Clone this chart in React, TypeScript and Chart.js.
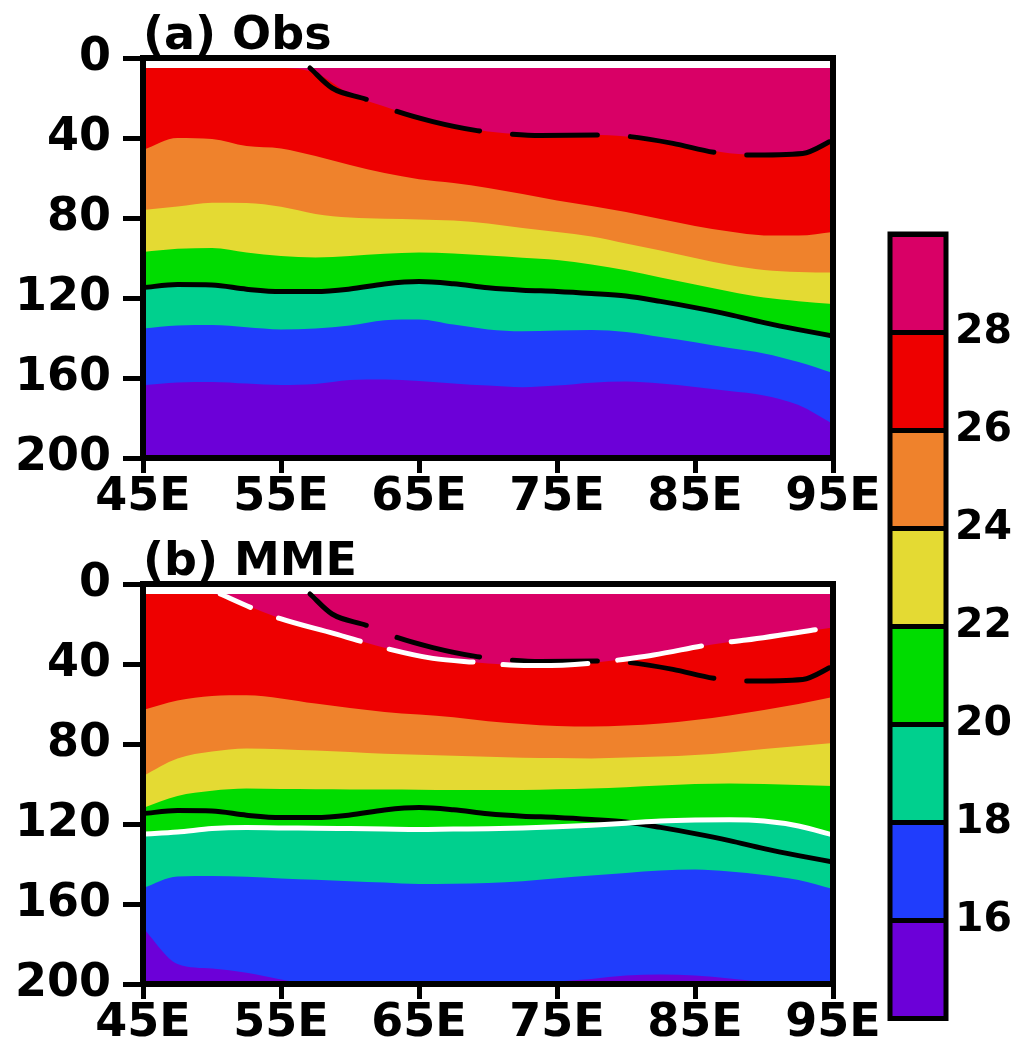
import React, { useEffect, useRef } from 'react';
import { Chart, registerables } from 'chart.js';

Chart.register(...registerables);

// ---------- data ----------
const LONS = [45, 47.5, 50, 52.5, 55, 57.5, 60, 62.5, 65, 67.5, 70, 72.5, 75, 77.5, 80, 82.5, 85, 87.5, 90, 92.5, 95];

// Panel (a) Obs: depth (m) of isotherms
const OBS_T28 = [5, 5, 5, 5, 5, 7.5, 18, 24.3, 29.8, 33.9, 36.8, 38.3, 38.7, 38.5, 39.2, 41.7, 44.8, 47.6, 48.3, 47.8, 42];
const OBS_T26 = [46, 40, 40.5, 44, 45.2, 49, 53.5, 57.5, 60.6, 62.5, 65, 68, 71.3, 74, 77, 80.5, 84, 86.8, 88.7, 88.8, 87];
const OBS_T24 = [76, 74.3, 72.4, 72.5, 74.4, 78, 79.8, 80.4, 80.7, 81.3, 82.8, 85, 87, 89.3, 92.8, 96.3, 100, 103.5, 106, 107, 107.3];
const OBS_T22 = [97, 95.4, 95, 97.2, 99, 99.7, 99, 97.9, 97.3, 97.8, 98.8, 99.9, 101, 103.2, 106.1, 109.7, 113.3, 116.8, 119.8, 121.6, 123];
const OBS_T20 = [114.8, 113.3, 113.5, 115.6, 116.8, 116.8, 115.5, 113, 111.8, 112.9, 114.9, 116.1, 116.7, 117.7, 119, 121.7, 124.8, 128.3, 132.3, 135.8, 139];
const OBS_T18 = [135.3, 133.8, 133.5, 134.6, 135.7, 135.2, 133.8, 131.1, 130.7, 133.3, 135.7, 136.6, 136.3, 136, 137, 139.5, 142.1, 145, 147.7, 152, 157.5];
const OBS_T16 = [163.6, 162.2, 162, 162.8, 163.5, 163, 161, 160.7, 161.5, 162.7, 163.8, 164.6, 163.8, 162.4, 161.8, 162.8, 164.5, 166.5, 168.7, 173.5, 183];

// Panel (b) MME: depth (m) of isotherms
const MME_T28 = [5, 5, 5, 10.8, 17.4, 22.2, 27, 31.9, 35.7, 38.3, 39.7, 40.6, 40.6, 39.5, 37.4, 35, 31.7, 29, 26.8, 24.3, 21.8];
const MME_T26 = [63, 58.3, 56, 55.6, 57.2, 59.8, 62, 64, 65.3, 66.6, 68.6, 70, 71, 71.3, 70.8, 69.8, 68, 65.7, 63, 60, 56.5];
const MME_T24 = [96, 87.3, 83.8, 82.2, 82.6, 83.3, 84, 84.9, 85.4, 85.9, 86.4, 86.9, 87, 87.2, 86.8, 86.3, 85.5, 84.2, 82.5, 81, 79.5];
const MME_T22 = [112, 106, 103.4, 102.3, 102.5, 102.6, 102.7, 102.8, 102.9, 103, 103, 103, 102.6, 102.2, 101.6, 100.8, 100, 99.7, 100, 100.5, 101];
const MME_T20 = [125, 124, 122.3, 121.8, 122, 122.1, 122.3, 122.5, 122.7, 122.5, 122.4, 122, 121.4, 120.6, 119.6, 118.5, 118, 117.9, 118.5, 121, 125.5];
const MME_T18 = [152, 146.2, 146, 146.4, 147.2, 147.9, 148.6, 149.3, 150, 149.9, 149.5, 148.6, 147.1, 145.7, 144.5, 143.3, 142.8, 143.8, 145.5, 148, 152.5];
const MME_T16 = [172, 190, 192.3, 194.4, 197.7, 200, 200, 200, 200, 200, 200, 200, 198.8, 197.5, 195.8, 195.3, 195.8, 197.2, 199, 200, 200];

// 28 degC isotherm contour lines (dashed)
const OBS28_LINE_LON = [57.1, 58.7, 61.2, 63.1, 66, 69.2, 71.6, 73.8, 77.9, 80.3, 83.4, 86.4, 88.8, 92.8, 95];
const OBS28_LINE_DEP = [5, 15, 20.7, 26, 31.8, 36.3, 38, 38.7, 38.5, 39.3, 42.7, 47.2, 48.5, 47.7, 41];
const MME28_LINE_LON = [50.6, 52.8, 54.9, 58.8, 62.9, 66, 69.2, 71.6, 73.8, 77.9, 80.3, 82, 86.3, 88.7, 95];
const MME28_LINE_DEP = [5, 11.7, 17.2, 24.7, 32.7, 37.2, 39.2, 40.5, 40.8, 39.3, 37.2, 35.5, 30, 28, 21.5];

const X_TICKS = [45, 55, 65, 75, 85, 95];
const X_TICK_LABELS = ['45E', '55E', '65E', '75E', '85E', '95E'];
const Y_TICKS = [0, 40, 80, 120, 160, 200];

const CB_LEVELS = [14, 16, 18, 20, 22, 24, 26, 28, 30];
const CB_TICK_LABELS = ['', '16', '18', '20', '22', '24', '26', '28', ''];

// ---------- styles ----------
const C_PURPLE = '#6C00D8';
const C_BLUE = '#203DFC';
const C_TEAL = '#00D08E';
const C_GREEN = '#00DC00';
const C_YELLOW = '#E4DA33';
const C_ORANGE = '#EF822C';
const C_RED = '#EE0000';
const C_MAGENTA = '#D90066';
const CB_COLORS = [C_PURPLE, C_BLUE, C_TEAL, C_GREEN, C_YELLOW, C_ORANGE, C_RED, C_MAGENTA];

const FAMILY = "'DejaVu Sans', 'Noto Sans', sans-serif";

const pts = (xs: number[], ys: number[]) => xs.map((x, i) => ({ x, y: ys[i] }));

const framePlugin = {
  id: 'frame',
  afterDraw(chart: any, _args: any, opts: any) {
    const { ctx, chartArea } = chart;
    const { left, top, right, bottom } = chartArea;
    ctx.save();
    ctx.strokeStyle = '#000';
    ctx.lineWidth = opts.width || 6;
    ctx.strokeRect(left, top, right - left, bottom - top);
    ctx.restore();
  },
};

function fillSet(data: number[], color: string, target: number, order: number) {
  return {
    data: pts(LONS, data),
    backgroundColor: color,
    borderColor: 'rgba(0,0,0,0)',
    borderWidth: 0,
    pointRadius: 0,
    fill: { value: target },
    order,
    cubicInterpolationMode: 'monotone',
  };
}

function lineSet(data: any[], color: string, dash: number[], offset: number, order: number) {
  return {
    data,
    borderColor: color,
    backgroundColor: color,
    borderWidth: 5,
    borderDash: dash,
    borderDashOffset: offset,
    borderCapStyle: 'round',
    pointRadius: 0,
    fill: false,
    order,
    cubicInterpolationMode: 'monotone',
  };
}

function panelConfig(title: string, t: number[][], lines: any[], height: number): any {
  const [t28, t26, t24, t22, t20, t18, t16] = t;
  return {
    type: 'line',
    data: {
      datasets: [
        fillSet(t16, C_MAGENTA, 5, 100),
        fillSet(t28, C_RED, 200, 90),
        fillSet(t26, C_ORANGE, 200, 80),
        fillSet(t24, C_YELLOW, 200, 70),
        fillSet(t22, C_GREEN, 200, 60),
        fillSet(t20, C_TEAL, 200, 50),
        fillSet(t18, C_BLUE, 200, 40),
        fillSet(t16, C_PURPLE, 200, 30),
        ...lines,
      ],
    },
    plugins: [framePlugin],
    options: {
      responsive: false,
      animation: false,
      devicePixelRatio: 1,
      events: [],
      layout: { padding: { top: 14, right: 67, left: 0, bottom: 0 } },
      plugins: {
        legend: { display: false },
        tooltip: { enabled: false },
        frame: { width: 6 },
        title: {
          display: true,
          text: title,
          align: 'start',
          fullSize: false,
          color: '#000',
          font: { family: FAMILY, size: 46, weight: 'bold', lineHeight: 1 },
          padding: { top: 0, bottom: -2 },
        },
      },
      scales: {
        x: {
          type: 'linear',
          min: 45,
          max: 95,
          afterBuildTicks: (s: any) => {
            s.ticks = X_TICKS.map((v) => ({ value: v }));
          },
          afterFit: (s: any) => {
            s.height = height - 458;
            s.paddingLeft = 0;
            s.paddingRight = 0;
          },
          ticks: {
            callback: (v: number) => X_TICK_LABELS[X_TICKS.indexOf(v)],
            color: '#000',
            font: { family: FAMILY, size: 46, weight: 'bold', lineHeight: 1 },
            padding: 2,
            maxRotation: 0,
            autoSkip: false,
          },
          grid: { drawOnChartArea: false, drawTicks: true, tickLength: 15, tickWidth: 5, tickColor: '#000' },
          border: { display: false },
        },
        y: {
          type: 'linear',
          reverse: true,
          min: 0,
          max: 200,
          afterBuildTicks: (s: any) => {
            s.ticks = Y_TICKS.map((v) => ({ value: v }));
          },
          afterFit: (s: any) => {
            s.width = 143;
          },
          ticks: {
            color: '#000',
            font: { family: FAMILY, size: 46, weight: 'bold', lineHeight: 1 },
            padding: 12,
          },
          grid: { drawOnChartArea: false, drawTicks: true, tickLength: 20, tickWidth: 5, tickColor: '#000' },
          border: { display: false },
        },
      },
    },
  };
}

function colorbarConfig(): any {
  return {
    type: 'bar',
    data: {
      labels: [''],
      datasets: CB_COLORS.map((c, i) => ({
        data: [[CB_LEVELS[i], CB_LEVELS[i + 1]]],
        backgroundColor: c,
        borderWidth: 0,
        barPercentage: 1,
        categoryPercentage: 1,
        grouped: false,
      })),
    },
    plugins: [framePlugin],
    options: {
      responsive: false,
      animation: false,
      devicePixelRatio: 1,
      events: [],
      layout: { padding: { top: 34, right: 0, left: 30, bottom: 13 } },
      plugins: {
        legend: { display: false },
        tooltip: { enabled: false },
        frame: { width: 5 },
      },
      scales: {
        x: { display: false },
        y: {
          type: 'linear',
          position: 'right',
          min: 14,
          max: 30,
          afterBuildTicks: (s: any) => {
            s.ticks = CB_LEVELS.map((v) => ({ value: v }));
          },
          afterFit: (s: any) => {
            s.width = 84;
          },
          ticks: {
            callback: (v: number) => CB_TICK_LABELS[CB_LEVELS.indexOf(v)],
            color: '#000',
            font: { family: FAMILY, size: 41, weight: 'bold', lineHeight: 1 },
            padding: 9,
          },
          grid: { z: 1, drawOnChartArea: true, drawTicks: false, lineWidth: 5, color: '#000' },
          border: { display: false },
        },
      },
    },
  };
}

function ChartCanvas({ make, width, height, left, top }: any) {
  const ref = useRef<HTMLCanvasElement | null>(null);
  useEffect(() => {
    const chart = new Chart(ref.current as HTMLCanvasElement, make());
    return () => chart.destroy();
  }, []);
  return (
    <canvas
      ref={ref}
      width={width}
      height={height}
      style={{ position: 'absolute', left, top, width, height }}
    />
  );
}

export default function App() {
  const obsLines = [
    lineSet(pts(LONS, OBS_T20), '#000', [], 0, 2),
    lineSet(pts(OBS28_LINE_LON, OBS28_LINE_DEP), '#000', [85, 33], 19, 3),
  ];
  const mmeLines = [
    lineSet(pts(MME28_LINE_LON, MME28_LINE_DEP), '#fff', [85, 30], 52, 0),
    lineSet(pts(LONS, MME_T20), '#fff', [], 0, 1),
    lineSet(pts(LONS, OBS_T20), '#000', [], 0, 2),
    lineSet(pts(OBS28_LINE_LON, OBS28_LINE_DEP), '#000', [85, 33], 19, 3),
  ];
  return (
    <div style={{ position: 'absolute', left: 0, top: 0, width: 1030, height: 1048, background: '#fff', overflow: 'hidden' }}>
      <ChartCanvas
        make={() => panelConfig('(a) Obs', [OBS_T28, OBS_T26, OBS_T24, OBS_T22, OBS_T20, OBS_T18, OBS_T16], obsLines, 520)}
        width={900}
        height={520}
        left={0}
        top={0}
      />
      <ChartCanvas
        make={() => panelConfig('(b) MME', [MME_T28, MME_T26, MME_T24, MME_T22, MME_T20, MME_T18, MME_T16], mmeLines, 522)}
        width={900}
        height={522}
        left={0}
        top={526}
      />
      <ChartCanvas make={colorbarConfig} width={170} height={848} left={860} top={200} />
    </div>
  );
}
